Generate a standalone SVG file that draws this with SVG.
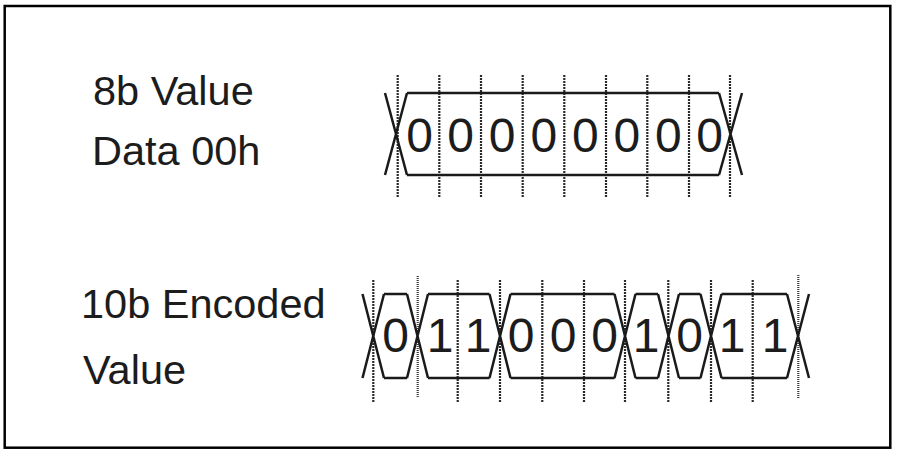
<svg xmlns="http://www.w3.org/2000/svg" width="897" height="453" viewBox="0 0 897 453">
  <style>
    .lbl { font-family: "Liberation Sans", Arial, sans-serif; font-size: 41.5px; fill: #1c1c1c; }
    .bit { font-family: "Liberation Sans", Arial, sans-serif; font-size: 48px; fill: #1c1c1c; text-anchor: middle; }
    .wave { fill: none; stroke: #1a1a1a; stroke-width: 2.5; stroke-linecap: butt; stroke-linejoin: miter; }
    .clk { stroke: #2a2a2a; stroke-width: 2.2; stroke-dasharray: 2 1; fill: none; }
    .clk2 { stroke: #3a3a3a; stroke-width: 2.2; stroke-dasharray: 1 1; fill: none; }
  </style>
  <rect x="0" y="0" width="897" height="453" fill="#ffffff"/>
  <rect id="frame" x="4.7" y="6" width="885.6" height="441.7" fill="none" stroke="#000" stroke-width="2.5"/>

  <g id="label-8b">
    <text class="lbl" x="93" y="104.5">8b Value</text>
    <text class="lbl" x="92" y="165">Data 00h</text>
  </g>
  <g id="label-10b">
    <text class="lbl" x="81" y="318">10b Encoded</text>
    <text class="lbl" x="83" y="384">Value</text>
  </g>

  <g id="clock-8b">
    <line class="clk" x1="397.7" y1="75" x2="397.7" y2="198"/>
    <line class="clk" x1="439.3" y1="75" x2="439.3" y2="198"/>
    <line class="clk" x1="481" y1="75" x2="481" y2="198"/>
    <line class="clk" x1="522.7" y1="75" x2="522.7" y2="198"/>
    <line class="clk" x1="564.3" y1="75" x2="564.3" y2="198"/>
    <line class="clk" x1="606" y1="75" x2="606" y2="198"/>
    <line class="clk" x1="647.3" y1="75" x2="647.3" y2="198"/>
    <line class="clk" x1="689" y1="75" x2="689" y2="198"/>
    <line class="clk" x1="730" y1="75" x2="730" y2="198"/>
  </g>

  <g id="wave-8b">
    <path class="wave" d="M385,93 L407,175 M385,175 L407,93 M407,93 L719,93 M407,175 L719,175 M719,93 L742,175 M719,175 L742,93"/>
    <text class="bit" x="419.5" y="152">0</text>
    <text class="bit" x="460.7" y="152">0</text>
    <text class="bit" x="502.2" y="152">0</text>
    <text class="bit" x="543.8" y="152">0</text>
    <text class="bit" x="585.4" y="152">0</text>
    <text class="bit" x="626.9" y="152">0</text>
    <text class="bit" x="668.4" y="152">0</text>
    <text class="bit" x="709.7" y="152">0</text>
  </g>

  <g id="clock-10b">
    <line class="clk" x1="373.3" y1="280" x2="373.3" y2="403"/>
    <line class="clk2" x1="417.7" y1="276" x2="417.7" y2="397"/>
    <line class="clk" x1="457.7" y1="280" x2="457.7" y2="403"/>
    <line class="clk" x1="500" y1="280" x2="500" y2="403"/>
    <line class="clk" x1="542.3" y1="280" x2="542.3" y2="403"/>
    <line class="clk" x1="584" y1="280" x2="584" y2="403"/>
    <line class="clk" x1="625" y1="280" x2="625" y2="403"/>
    <line class="clk" x1="668.3" y1="280" x2="668.3" y2="403"/>
    <line class="clk" x1="711" y1="280" x2="711" y2="403"/>
    <line class="clk" x1="752.7" y1="280" x2="752.7" y2="403"/>
    <line class="clk2" x1="798.3" y1="275" x2="798.3" y2="398"/>
  </g>

  <g id="wave-10b">
    <path class="wave" d="
      M362.5,294 L384,378 M362.5,378 L384,294
      M384,294 L407,294 M384,378 L407,378
      M407,294 L428,378 M407,378 L428,294
      M428,294 L489.5,294 M428,378 L489.5,378
      M489.5,294 L510.5,378 M489.5,378 L510.5,294
      M510.5,294 L614.5,294 M510.5,378 L614.5,378
      M614.5,294 L635.5,378 M614.5,378 L635.5,294
      M635.5,294 L658,294 M635.5,378 L658,378
      M658,294 L679,378 M658,378 L679,294
      M679,294 L700.5,294 M679,378 L700.5,378
      M700.5,294 L721.5,378 M700.5,378 L721.5,294
      M721.5,294 L787,294 M721.5,378 L787,378
      M787,294 L809,378 M787,378 L809,294"/>
    <text class="bit" x="395.5" y="352">0</text>
    <text class="bit" x="440" y="352">1</text>
    <text class="bit" x="478" y="352">1</text>
    <text class="bit" x="521" y="352">0</text>
    <text class="bit" x="563" y="352">0</text>
    <text class="bit" x="604.5" y="352">0</text>
    <text class="bit" x="646" y="352">1</text>
    <text class="bit" x="689.7" y="352">0</text>
    <text class="bit" x="732" y="352">1</text>
    <text class="bit" x="775" y="352">1</text>
  </g>
</svg>
